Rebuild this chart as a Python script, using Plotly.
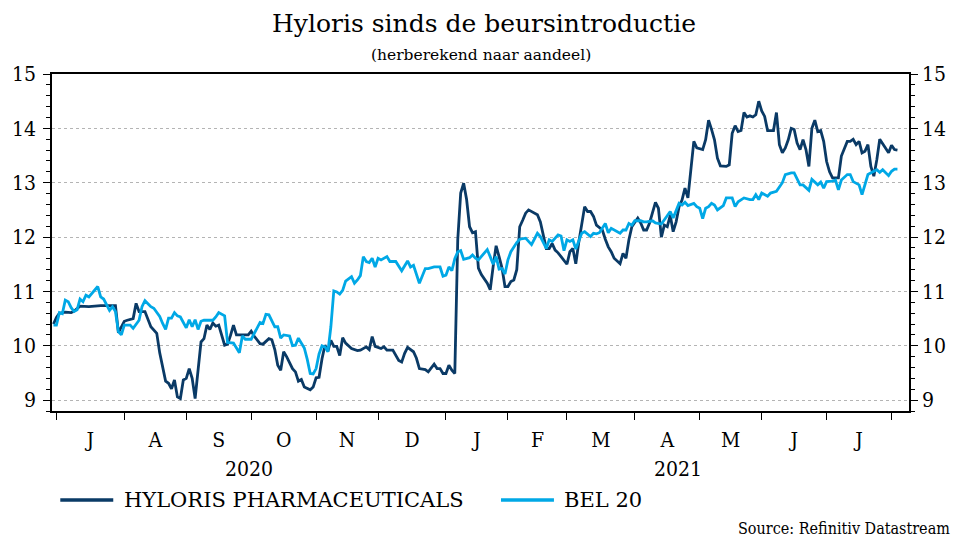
import plotly.graph_objects as go

# ---------------- data ----------------
hyl_dates = [
    "2020-06-30", "2020-07-01", "2020-07-02", "2020-07-06", "2020-07-08", "2020-07-09", "2020-07-13",
    "2020-07-16", "2020-07-22", "2020-07-28", "2020-07-29", "2020-07-30", "2020-07-31",
    "2020-08-03", "2020-08-04", "2020-08-06", "2020-08-07", "2020-08-10", "2020-08-12", "2020-08-14",
    "2020-08-18", "2020-08-19", "2020-08-21", "2020-08-24", "2020-08-25", "2020-08-26", "2020-08-27",
    "2020-08-28", "2020-08-31",
    "2020-09-01", "2020-09-02", "2020-09-03", "2020-09-04", "2020-09-07", "2020-09-08", "2020-09-09",
    "2020-09-10", "2020-09-11", "2020-09-14", "2020-09-15", "2020-09-16", "2020-09-18", "2020-09-21",
    "2020-09-22", "2020-09-23", "2020-09-24", "2020-09-25", "2020-09-29", "2020-09-30",
    "2020-10-01", "2020-10-02", "2020-10-06", "2020-10-07", "2020-10-09", "2020-10-12", "2020-10-13",
    "2020-10-14", "2020-10-15", "2020-10-16", "2020-10-19", "2020-10-21", "2020-10-22", "2020-10-23",
    "2020-10-26", "2020-10-27", "2020-10-29", "2020-10-30",
    "2020-11-02", "2020-11-03", "2020-11-04", "2020-11-05", "2020-11-06", "2020-11-09", "2020-11-10",
    "2020-11-11", "2020-11-12", "2020-11-13", "2020-11-16", "2020-11-18", "2020-11-20", "2020-11-23",
    "2020-11-25", "2020-11-26", "2020-11-27", "2020-11-30",
    "2020-12-02", "2020-12-03", "2020-12-04", "2020-12-08", "2020-12-10", "2020-12-11", "2020-12-14",
    "2020-12-15", "2020-12-17", "2020-12-18", "2020-12-21", "2020-12-23", "2020-12-24", "2020-12-28",
    "2020-12-29", "2020-12-30", "2020-12-31",
    "2021-01-01", "2021-01-04", "2021-01-05", "2021-01-06", "2021-01-07", "2021-01-08", "2021-01-11",
    "2021-01-12", "2021-01-13", "2021-01-14", "2021-01-15", "2021-01-18", "2021-01-19", "2021-01-21",
    "2021-01-22", "2021-01-25", "2021-01-26", "2021-01-27", "2021-01-28", "2021-01-29",
    "2021-02-01", "2021-02-02", "2021-02-03", "2021-02-04", "2021-02-05", "2021-02-08", "2021-02-09",
    "2021-02-10", "2021-02-11", "2021-02-15", "2021-02-16", "2021-02-17", "2021-02-18", "2021-02-19",
    "2021-02-22", "2021-02-23", "2021-02-24", "2021-02-25",
    "2021-03-01", "2021-03-02", "2021-03-03", "2021-03-04", "2021-03-05", "2021-03-09", "2021-03-10",
    "2021-03-11", "2021-03-12", "2021-03-15", "2021-03-17", "2021-03-18", "2021-03-19", "2021-03-22",
    "2021-03-23", "2021-03-25", "2021-03-26", "2021-03-29", "2021-03-30", "2021-03-31",
    "2021-04-01", "2021-04-02", "2021-04-05", "2021-04-06", "2021-04-07", "2021-04-08", "2021-04-09",
    "2021-04-12", "2021-04-13", "2021-04-14", "2021-04-15", "2021-04-16", "2021-04-19", "2021-04-20",
    "2021-04-21", "2021-04-22", "2021-04-23", "2021-04-26", "2021-04-27", "2021-04-28", "2021-04-29",
    "2021-04-30",
    "2021-05-04", "2021-05-05", "2021-05-06", "2021-05-07", "2021-05-10", "2021-05-11", "2021-05-12",
    "2021-05-14", "2021-05-17", "2021-05-18", "2021-05-19", "2021-05-20", "2021-05-21", "2021-05-24",
    "2021-05-25", "2021-05-26", "2021-05-27", "2021-05-28", "2021-05-31",
    "2021-06-01", "2021-06-02", "2021-06-03", "2021-06-04", "2021-06-07", "2021-06-08", "2021-06-09",
    "2021-06-10", "2021-06-11", "2021-06-14", "2021-06-15", "2021-06-16", "2021-06-17", "2021-06-18",
    "2021-06-21", "2021-06-22", "2021-06-23", "2021-06-24", "2021-06-25", "2021-06-28", "2021-06-29",
    "2021-06-30",
    "2021-07-01", "2021-07-02", "2021-07-05", "2021-07-06", "2021-07-07", "2021-07-08", "2021-07-09",
    "2021-07-12", "2021-07-13", "2021-07-14", "2021-07-15", "2021-07-16", "2021-07-19", "2021-07-20",
    "2021-07-21", "2021-07-22", "2021-07-23", "2021-07-26", "2021-07-27", "2021-07-28", "2021-07-29",
    "2021-07-30",
    "2021-08-02", "2021-08-03", "2021-08-04",
]
hyl_values = [
    10.40, 10.52, 10.60, 10.62, 10.61, 10.64, 10.73, 10.72, 10.74, 10.74, 10.74, 10.24, 10.35,
    10.45, 10.47, 10.50, 10.78, 10.63, 10.63, 10.35, 10.23, 9.87, 9.35, 9.31, 9.21, 9.37, 9.06, 9.03, 9.37,
    9.40, 9.58, 9.40, 9.03, 9.55, 10.07, 10.13, 10.38, 10.30, 10.42, 10.36, 10.38, 10.01, 10.03,
    10.19, 10.38, 10.20, 10.20, 10.20, 10.20,
    10.27, 10.18, 10.04, 10.03, 10.13, 10.11, 9.93, 9.64, 9.55, 9.89, 9.80, 9.58, 9.52, 9.35, 9.38,
    9.24, 9.19, 9.24,
    9.41, 9.42, 9.76, 10.01, 9.90, 10.10, 9.99, 9.99, 9.82, 10.15, 10.05, 9.95, 9.91, 9.92, 9.98,
    9.93, 10.17, 9.99,
    9.95, 9.98, 9.92, 9.92, 9.73, 9.70, 9.86, 9.97, 9.89, 9.77, 9.58, 9.56, 9.52, 9.66, 9.58, 9.58, 9.49,
    9.49, 9.64, 9.55, 9.49, 11.95, 12.81, 12.99, 12.69, 12.19, 12.08, 12.10, 11.43, 11.31, 11.15,
    11.03, 11.46, 11.84, 11.64, 11.43, 11.09,
    11.09, 11.18, 11.21, 11.40, 12.19, 12.31, 12.44, 12.50, 12.47, 12.41, 12.28, 12.01, 11.79, 11.79,
    11.88, 11.76, 11.71, 11.64,
    11.50, 11.73, 11.79, 11.51, 11.90, 12.56, 12.47, 12.47, 12.38, 12.22, 12.13, 11.96, 11.82, 11.73,
    11.61, 11.51, 11.70, 11.61, 11.95, 12.19,
    12.28, 12.35, 12.26, 12.13, 12.13, 12.26, 12.45, 12.64, 12.53, 12.00, 12.22, 12.19, 12.40, 12.10,
    12.28, 12.56, 12.68, 12.90, 12.72, 13.30, 13.76, 13.64,
    13.61, 13.79, 14.15, 13.98, 13.79, 13.45, 13.31, 13.30, 13.33, 13.91, 14.05, 13.94, 13.96, 14.29,
    14.21, 14.23, 14.21, 14.25, 14.50,
    14.32, 14.22, 13.96, 13.96, 13.96, 14.29, 13.70, 13.55, 13.64, 13.79, 14.00, 13.98, 13.73, 13.61,
    13.79, 13.61, 13.30, 14.00, 14.15, 13.94, 13.96, 13.76,
    13.39, 13.20, 13.09, 13.09, 13.09, 13.49, 13.61, 13.76, 13.76, 13.80, 13.70, 13.76, 13.55, 13.58,
    13.70, 13.30, 13.12, 13.42, 13.80, 13.72, 13.65, 13.55,
    13.69, 13.61, 13.60,
]

bel_dates = [
    "2020-06-30", "2020-07-01", "2020-07-02", "2020-07-03", "2020-07-06", "2020-07-07", "2020-07-08",
    "2020-07-09", "2020-07-10", "2020-07-13", "2020-07-14", "2020-07-15", "2020-07-16", "2020-07-17",
    "2020-07-21", "2020-07-22", "2020-07-23", "2020-07-27", "2020-07-28", "2020-07-29", "2020-07-30",
    "2020-07-31",
    "2020-08-03", "2020-08-05", "2020-08-06", "2020-08-10", "2020-08-11", "2020-08-12", "2020-08-14",
    "2020-08-17", "2020-08-19", "2020-08-20", "2020-08-21", "2020-08-24", "2020-08-25", "2020-08-26",
    "2020-08-27", "2020-08-28",
    "2020-09-01", "2020-09-02", "2020-09-03", "2020-09-04", "2020-09-07", "2020-09-08", "2020-09-09",
    "2020-09-10", "2020-09-14", "2020-09-15", "2020-09-16", "2020-09-18", "2020-09-21", "2020-09-23",
    "2020-09-24", "2020-09-25", "2020-09-28", "2020-09-29",
    "2020-10-01", "2020-10-02", "2020-10-06", "2020-10-07", "2020-10-08", "2020-10-09", "2020-10-13",
    "2020-10-14", "2020-10-15", "2020-10-16", "2020-10-20", "2020-10-21", "2020-10-22", "2020-10-23",
    "2020-10-26", "2020-10-27", "2020-10-28", "2020-10-29", "2020-10-30",
    "2020-11-02", "2020-11-03", "2020-11-04", "2020-11-05", "2020-11-06", "2020-11-09", "2020-11-10",
    "2020-11-11", "2020-11-12", "2020-11-13", "2020-11-16", "2020-11-18", "2020-11-19", "2020-11-20",
    "2020-11-23", "2020-11-24", "2020-11-25", "2020-11-26", "2020-11-27", "2020-11-30",
    "2020-12-01", "2020-12-02", "2020-12-04", "2020-12-07", "2020-12-09", "2020-12-11", "2020-12-15",
    "2020-12-16", "2020-12-17", "2020-12-21", "2020-12-23", "2020-12-24", "2020-12-28", "2020-12-30",
    "2020-12-31",
    "2021-01-01", "2021-01-04", "2021-01-05", "2021-01-06", "2021-01-07", "2021-01-08", "2021-01-11",
    "2021-01-12", "2021-01-13", "2021-01-14", "2021-01-15", "2021-01-18", "2021-01-19", "2021-01-20",
    "2021-01-21", "2021-01-22", "2021-01-25", "2021-01-26", "2021-01-27", "2021-01-28", "2021-01-29",
    "2021-02-01", "2021-02-02", "2021-02-04", "2021-02-05", "2021-02-09", "2021-02-10", "2021-02-11",
    "2021-02-15", "2021-02-16", "2021-02-18", "2021-02-19", "2021-02-22", "2021-02-23", "2021-02-24",
    "2021-02-25", "2021-02-26",
    "2021-03-01", "2021-03-02", "2021-03-03", "2021-03-04", "2021-03-08", "2021-03-09", "2021-03-11",
    "2021-03-12", "2021-03-15", "2021-03-16", "2021-03-18", "2021-03-19", "2021-03-22", "2021-03-24",
    "2021-03-25", "2021-03-26", "2021-03-29", "2021-03-30", "2021-03-31",
    "2021-04-01", "2021-04-05", "2021-04-06", "2021-04-07", "2021-04-09", "2021-04-12", "2021-04-14",
    "2021-04-15", "2021-04-19", "2021-04-20", "2021-04-21", "2021-04-22", "2021-04-23", "2021-04-26",
    "2021-04-27", "2021-04-29", "2021-04-30",
    "2021-05-03", "2021-05-04", "2021-05-05", "2021-05-06", "2021-05-07", "2021-05-10", "2021-05-11",
    "2021-05-13", "2021-05-14", "2021-05-18", "2021-05-19", "2021-05-20", "2021-05-24", "2021-05-26",
    "2021-05-27", "2021-05-28", "2021-05-31",
    "2021-06-01", "2021-06-03", "2021-06-04", "2021-06-08", "2021-06-10", "2021-06-11", "2021-06-15",
    "2021-06-16", "2021-06-18", "2021-06-21", "2021-06-23", "2021-06-24", "2021-06-28", "2021-06-29",
    "2021-06-30",
    "2021-07-01", "2021-07-05", "2021-07-06", "2021-07-07", "2021-07-08", "2021-07-12", "2021-07-13",
    "2021-07-14", "2021-07-16", "2021-07-19", "2021-07-20", "2021-07-21", "2021-07-23", "2021-07-26",
    "2021-07-27", "2021-07-28", "2021-07-30",
    "2021-08-02", "2021-08-03", "2021-08-04",
]
bel_values = [
    10.38, 10.38, 10.61, 10.59, 10.84, 10.81, 10.70, 10.63, 10.66, 10.86, 10.81, 10.93, 10.90, 10.96,
    11.09, 10.90, 10.86, 10.65, 10.72, 10.63, 10.26, 10.20,
    10.38, 10.38, 10.32, 10.47, 10.72, 10.83, 10.72, 10.69, 10.54, 10.41, 10.30, 10.51, 10.51, 10.61,
    10.55, 10.53,
    10.33, 10.48, 10.35, 10.48, 10.30, 10.45, 10.47, 10.47, 10.47, 10.53, 10.61, 10.55, 10.06, 10.05,
    9.95, 9.87, 10.18, 10.12,
    10.12, 10.23, 10.43, 10.41, 10.58, 10.57, 10.35, 10.35, 10.14, 10.20, 10.18, 10.00, 10.01, 10.14,
    10.05, 9.96, 9.75, 9.49, 9.48,
    9.58, 9.85, 10.00, 9.98, 9.89, 10.35, 11.01, 10.99, 10.95, 11.02, 11.19, 11.27, 11.15, 11.21,
    11.29, 11.64, 11.55, 11.53, 11.61, 11.45,
    11.61, 11.58, 11.64, 11.55, 11.55, 11.38, 11.56, 11.45, 11.48, 11.15, 11.42, 11.42, 11.45, 11.45,
    11.28,
    11.30, 11.45, 11.38, 11.60, 11.73, 11.75, 11.59, 11.61, 11.62, 11.67, 11.61, 11.58, 11.64, 11.71,
    11.77, 11.64, 11.50, 11.64, 11.41, 11.42, 11.32,
    11.58, 11.73, 11.90, 11.96, 11.98, 11.92, 11.86, 12.07, 12.01, 11.79, 11.95, 11.92, 11.98, 12.04,
    12.02, 11.75,
    11.95, 11.92, 11.95, 11.78, 12.07, 12.10, 12.01, 12.07, 12.06, 12.08, 12.25, 12.08, 12.16, 12.10,
    12.07, 12.13, 12.13, 12.25, 12.22,
    12.30, 12.30, 12.28, 12.28, 12.30, 12.26, 12.24, 12.32, 12.47, 12.35, 12.50, 12.62, 12.59, 12.64,
    12.58, 12.62, 12.56,
    12.53, 12.34, 12.53, 12.56, 12.62, 12.59, 12.50, 12.58, 12.72, 12.72, 12.56, 12.65, 12.72, 12.69,
    12.69, 12.78, 12.69,
    12.81, 12.75, 12.81, 12.84, 13.00, 13.15, 13.18, 13.18, 12.96, 12.96, 12.86, 13.06, 12.96, 13.01,
    12.90,
    13.02, 13.03, 13.05, 12.87, 13.05, 13.15, 13.15, 13.02, 12.96, 12.78, 12.96, 13.15, 13.21, 13.24,
    13.19, 13.24, 13.13,
    13.21, 13.25, 13.25,
]

# month boundaries (first trading day of each month) and month labels
month_starts = ["2020-07-01", "2020-08-03", "2020-09-01", "2020-10-01", "2020-11-02", "2020-12-01",
                "2021-01-01", "2021-02-01", "2021-03-01", "2021-04-01", "2021-05-03", "2021-06-01",
                "2021-07-01", "2021-08-02"]
month_label_dates = ["2020-07-16 12:00", "2020-08-17 12:00", "2020-09-16", "2020-10-16",
                     "2020-11-16 12:00", "2020-12-16 12:00", "2021-01-15 12:00", "2021-02-15",
                     "2021-03-16 12:00", "2021-04-16", "2021-05-17 12:00", "2021-06-16", "2021-07-16"]
month_labels = ["J", "A", "S", "O", "N", "D", "J", "F", "M", "A", "M", "J", "J"]
year_label_dates = ["2020-09-30 06:00", "2021-04-21 12:00"]
year_labels = ["2020", "2021"]
y_ticks = [9, 10, 11, 12, 13, 14, 15]

series_names = ["HYLORIS PHARMACEUTICALS", "BEL 20"]
colors = ["#0a3a66", "#00a8e6"]

FONT_C = "DejaVu Serif Condensed, DejaVu Serif, serif"
FONT_R = "DejaVu Serif, serif"

# the page body adds an 8 px offset; the figure is sized to fill the rest of the 960x540 window
OFF = 8
W, H = 960 - OFF, 540 - OFF

fig = go.Figure()
fig.add_trace(go.Scatter(x=hyl_dates, y=hyl_values, mode="lines", name=series_names[0],
                         line=dict(color=colors[0], width=2.8), showlegend=False))
fig.add_trace(go.Scatter(x=bel_dates, y=bel_values, mode="lines", name=series_names[1],
                         line=dict(color=colors[1], width=2.8), showlegend=False, yaxis="y2"))

x_range = ["2020-06-29 12:00", "2021-08-09 22:00"]
yrange = [8.8, 15.0]
yax_common = dict(
    range=yrange, tickvals=y_ticks, ticks="outside", ticklen=7, tickwidth=1.3, tickcolor="black",
    showline=True, linecolor="black", linewidth=1.5, automargin=False,
    minor=dict(dtick=0.2, tick0=9, ticks="outside", ticklen=4, tickcolor="black", tickwidth=1, showgrid=False),
    tickfont=dict(family=FONT_C, size=21, color="black"), zeroline=False,
)

fig.update_layout(
    width=W, height=H,
    margin=dict(l=52 - OFF, r=51, t=74 - OFF, b=129, autoexpand=False),
    paper_bgcolor="white", plot_bgcolor="white",
    title=dict(text="Hyloris sinds de beursintroductie", x=0.5, xanchor="center",
               y=1 - (23 - OFF) / H, yanchor="middle", yref="container",
               font=dict(family=FONT_R, size=25, color="black")),
    xaxis=dict(type="date", range=x_range, rangebreaks=[dict(bounds=["sat", "mon"])],
               tickvals=month_starts, showticklabels=False, ticks="outside", ticklen=7,
               tickwidth=1.3, tickcolor="black", showline=True, linecolor="black", linewidth=1.5,
               mirror=True, showgrid=False, zeroline=False, automargin=False),
    xaxis2=dict(type="date", overlaying="x", matches="x", range=x_range,
                rangebreaks=[dict(bounds=["sat", "mon"])], side="bottom", anchor="y",
                tickvals=month_label_dates, ticktext=month_labels, ticks="", showline=False,
                showgrid=False, zeroline=False, ticklabelstandoff=14, automargin=False,
                tickfont=dict(family=FONT_C, size=21, color="black")),
    yaxis=dict(side="left", showgrid=True, gridcolor="#b4b4b4", griddash="dot", gridwidth=1,
               ticklabelstandoff=3, **yax_common),
    yaxis2=dict(side="right", overlaying="y", matches="y", showgrid=False, ticklabelstandoff=0,
                **yax_common),
)

# invisible anchor so that the month-label axis is drawn
fig.add_trace(go.Scatter(x=[month_label_dates[0]], y=[None], xaxis="x2", yaxis="y",
                         mode="lines", showlegend=False, hoverinfo="skip"))

PL, PR, PT, PB = 51.7, 909.3, 74, 411   # plot-area edges in window pixels


def px(xp):
    return (xp - PL) / (PR - PL)


def py(yp):
    return (PB - yp) / (PB - PT)


annotations = [
    dict(text="(herberekend naar aandeel)", xref="paper", yref="paper", x=0.5, y=py(55),
         xanchor="center", yanchor="middle", showarrow=False,
         font=dict(family=FONT_R, size=15.5, color="black")),
    dict(text="Source: Refinitiv Datastream", xref="paper", yref="paper", x=px(952),
         y=py(528), xanchor="right", yanchor="middle", showarrow=False,
         font=dict(family=FONT_C, size=16, color="black")),
]
for d, t in zip(year_label_dates, year_labels):
    annotations.append(dict(text=t, x=d, xref="x", yref="paper", y=py(469),
                            xanchor="center", yanchor="middle", showarrow=False,
                            font=dict(family=FONT_C, size=21, color="black")))

# legend built from shapes + text
leg_y = py(500)
shapes = []
for (x0, x1, xt), name, col in zip([(60, 113, 122), (501, 554, 562)], series_names, colors):
    shapes.append(dict(type="line", xref="paper", yref="paper", x0=px(x0), x1=px(x1), y0=leg_y, y1=leg_y,
                       line=dict(color=col, width=3.5)))
    annotations.append(dict(text=name, xref="paper", yref="paper", x=px(xt), y=leg_y,
                            xanchor="left", yanchor="middle", showarrow=False,
                            font=dict(family=FONT_R, size=21, color="black")))

fig.update_layout(annotations=annotations, shapes=shapes)
fig.write_html("out.html")
